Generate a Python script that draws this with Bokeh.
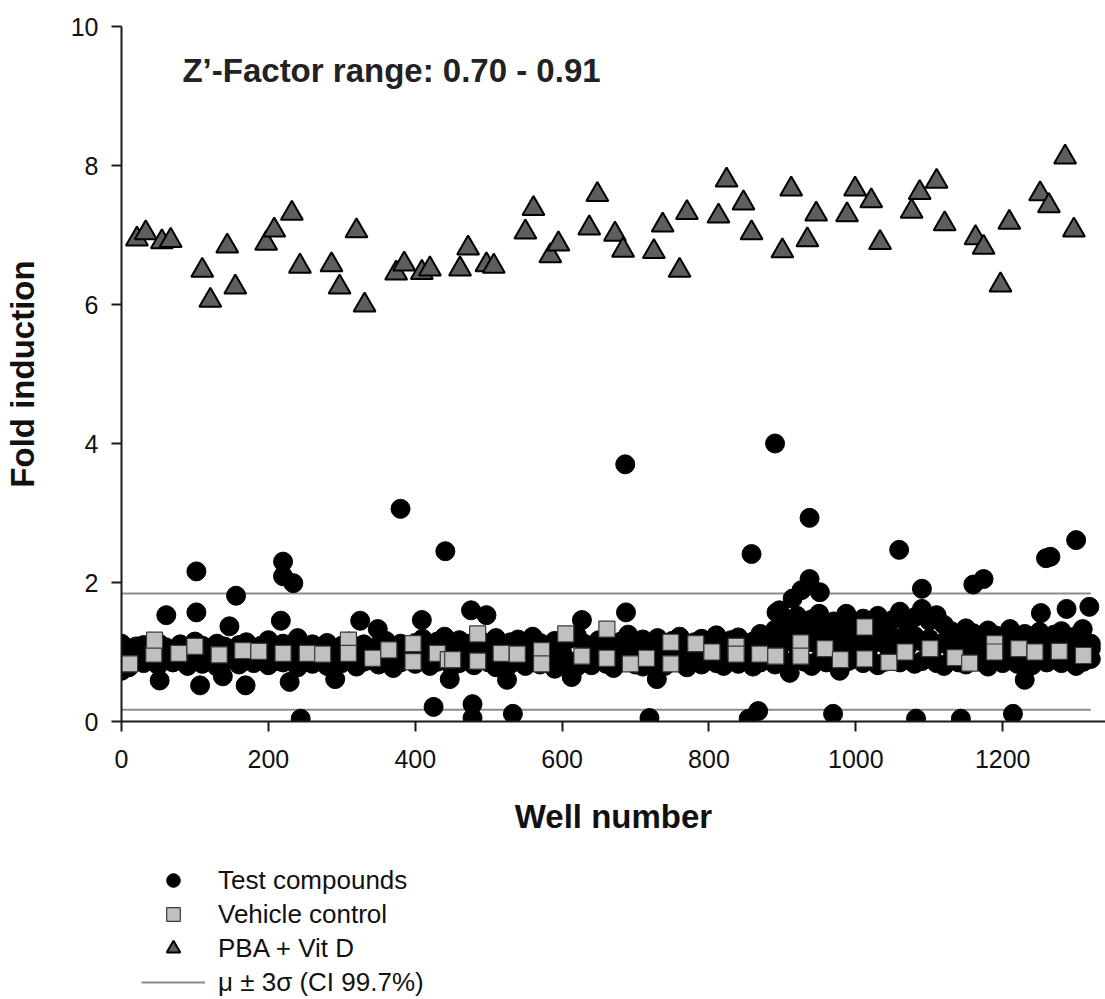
from bokeh.plotting import figure
from bokeh.models import Range1d, Label, Legend, LegendItem, FixedTicker
from bokeh.layouts import column
from bokeh.embed import file_html
from bokeh.resources import INLINE

FONT = "Liberation Sans"

# ---------------- data ----------------
x_ticks = [0, 200, 400, 600, 800, 1000, 1200]
y_ticks = [0, 2, 4, 6, 8, 10]

title_text = "Z\u2019-Factor range: 0.70 - 0.91"
series_names = ["Test compounds", "Vehicle control", "PBA + Vit D", "\u03bc \u00b1 3\u03c3 (CI 99.7%)"]

# mu +/- 3 sigma limits
limit_upper = 1.84
limit_lower = 0.17
limit_well_start = 0
limit_well_end = 1320

# Test compounds: dense band (upper and lower edge of the band)
band_wells = [0, 10, 20, 30, 40, 50, 60, 70, 80, 90,
              100, 110, 120, 130, 140, 150, 160, 170, 180, 190,
              200, 210, 220, 230, 240, 250, 260, 270, 280, 290,
              300, 310, 320, 330, 340, 350, 360, 370, 380, 390,
              400, 410, 420, 430, 440, 450, 460, 470, 480, 490,
              500, 510, 520, 530, 540, 550, 560, 570, 580, 590,
              600, 610, 620, 630, 640, 650, 660, 670, 680, 690,
              700, 710, 720, 730, 740, 750, 760, 770, 780, 790,
              800, 810, 820, 830, 840, 850, 860, 870, 880, 890,
              900, 910, 920, 930, 940, 950, 960, 970, 980, 990,
              1000, 1010, 1020, 1030, 1040, 1050, 1060, 1070, 1080, 1090,
              1100, 1110, 1120, 1130, 1140, 1150, 1160, 1170, 1180, 1190,
              1200, 1210, 1220, 1230, 1240, 1250, 1260, 1270, 1280, 1290,
              1300, 1310, 1320]
band_hi = [1.12, 1.05, 1.08, 1.10, 1.04, 1.13, 1.07, 1.02, 1.11, 1.06,
           1.15, 1.09, 1.04, 1.12, 1.08, 1.03, 1.10, 1.14, 1.06, 1.09,
           1.17, 1.05, 1.12, 1.08, 1.20, 1.04, 1.11, 1.07, 1.13, 1.02,
           1.09, 1.15, 1.06, 1.11, 1.04, 1.10, 1.16, 1.08, 1.12, 1.05,
           1.13, 1.19, 1.09, 1.15, 1.22, 1.10, 1.17, 1.12, 1.08, 1.16,
           1.11, 1.20, 1.06, 1.14, 1.18, 1.09, 1.22, 1.13, 1.07, 1.16,
           1.10, 1.19, 1.24, 1.12, 1.08, 1.17, 1.21, 1.11, 1.15, 1.25,
           1.09, 1.18, 1.13, 1.20, 1.07, 1.16, 1.22, 1.10, 1.14, 1.19,
           1.12, 1.24, 1.08, 1.17, 1.21, 1.11, 1.15, 1.26, 1.18, 1.32,
           1.45, 1.38, 1.52, 1.41, 1.47, 1.55, 1.36, 1.44, 1.30, 1.41,
           1.35, 1.48, 1.40, 1.52, 1.33, 1.46, 1.58, 1.42, 1.50, 1.62,
           1.45, 1.53, 1.39, 1.30, 1.22, 1.34, 1.27, 1.18, 1.31, 1.24,
           1.20, 1.33, 1.15, 1.26, 1.21, 1.29, 1.17, 1.25, 1.30, 1.19,
           1.23, 1.16, 1.12]
band_lo = [0.86, 0.78, 0.90, 0.84, 0.88, 0.81, 0.92, 0.85, 0.89, 0.80,
           0.87, 0.83, 0.91, 0.79, 0.86, 0.90, 0.82, 0.88, 0.84, 0.92,
           0.81, 0.87, 0.85, 0.90, 0.78, 0.86, 0.83, 0.89, 0.80, 0.87,
           0.84, 0.91, 0.79, 0.86, 0.88, 0.82, 0.90, 0.77, 0.85, 0.89,
           0.83, 0.88, 0.80, 0.86, 0.91, 0.79, 0.84, 0.87, 0.81, 0.89,
           0.85, 0.78, 0.88, 0.83, 0.90, 0.80, 0.86, 0.82, 0.89, 0.76,
           0.84, 0.87, 0.79, 0.85, 0.81, 0.88, 0.83, 0.77, 0.86, 0.90,
           0.82, 0.79, 0.87, 0.84, 0.80, 0.89, 0.85, 0.78, 0.86, 0.82,
           0.88, 0.84, 0.80, 0.87, 0.83, 0.89, 0.79, 0.85, 0.90, 0.82,
           0.88, 0.84, 0.91, 0.86, 0.80, 0.89, 0.85, 0.92, 0.83, 0.87,
           0.90, 0.84, 0.88, 0.81, 0.86, 0.92, 0.85, 0.89, 0.83, 0.87,
           0.91, 0.84, 0.80, 0.88, 0.85, 0.82, 0.89, 0.86, 0.79, 0.87,
           0.84, 0.90, 0.83, 0.86, 0.81, 0.88, 0.85, 0.92, 0.84, 0.87,
           0.80, 0.86, 0.90]

# Test compounds: middle of the band
mid_wells = [0, 30, 60, 90, 120, 150, 180, 210, 240, 270,
             300, 330, 360, 390, 420, 450, 480, 510, 540, 570,
             600, 630, 660, 690, 720, 750, 780, 810, 840, 870,
             880, 890, 900, 910, 920, 930, 940, 950, 960, 970,
             980, 990, 1000, 1010, 1020, 1030, 1040, 1050, 1060, 1070,
             1080, 1090, 1100, 1110, 1120, 1130, 1140, 1150, 1160, 1170,
             1180, 1190, 1200, 1210, 1220, 1230, 1240, 1250, 1260, 1270,
             1280, 1290, 1300, 1310, 1320]
mid_fold = [0.98, 1.01, 0.97, 1.03, 0.99, 1.02, 0.96, 1.00, 1.04, 0.98,
            1.01, 0.97, 1.03, 0.99, 1.02, 0.98, 1.04, 1.00, 0.97, 1.03,
            0.99, 1.02, 0.98, 1.04, 1.00, 0.97, 1.03, 0.99, 1.01, 0.98,
            1.05, 1.18, 1.12, 1.22, 1.08, 1.19, 1.14, 1.25, 1.10, 1.17,
            1.06, 1.21, 1.13, 1.18, 1.09, 1.24, 1.11, 1.16, 1.20, 1.07,
            1.23, 1.15, 1.19, 1.10, 1.14, 1.05, 1.03, 1.08, 1.01, 1.06,
            1.04, 1.09, 1.02, 1.07, 1.00, 1.05, 1.08, 1.03, 1.06, 1.01,
            1.07, 1.04, 1.09, 1.02, 1.05]

# Test compounds: points outside the band
out_wells = [0, 61, 102, 102, 147, 156, 217, 220, 220, 234,
             325, 349, 380, 409, 441, 476, 497, 627, 686, 687,
             858, 890, 892, 896, 914, 926, 937, 937, 951, 987,
             1059, 1090, 1160, 1174, 1252, 1259, 1265, 1287, 1300, 1309,
             1318,
             52, 107, 138, 169, 229, 244, 291, 425, 447, 478,
             478, 525, 533, 613, 719, 729, 854, 867, 910, 969,
             978, 1082, 1143, 1214, 1230]
out_fold = [0.73, 1.53, 2.16, 1.57, 1.37, 1.81, 1.45, 2.30, 2.09, 1.99,
            1.45, 1.33, 3.06, 1.46, 2.45, 1.60, 1.53, 1.46, 3.70, 1.57,
            2.41, 4.00, 1.57, 1.60, 1.77, 1.89, 2.05, 2.93, 1.86, 1.55,
            2.47, 1.91, 1.97, 2.05, 1.56, 2.35, 2.37, 1.62, 2.61, 1.33,
            1.65,
            0.59, 0.52, 0.65, 0.52, 0.57, 0.04, 0.61, 0.21, 0.61, 0.25,
            0.05, 0.60, 0.11, 0.64, 0.05, 0.61, 0.04, 0.15, 0.70, 0.11,
            0.73, 0.04, 0.04, 0.11, 0.60]

# Vehicle control
vehicle_wells = [11, 44, 45, 78, 100, 133, 165, 187, 220, 253,
                 274, 309, 309, 342, 364, 397, 397, 430, 445, 451,
                 485, 485, 517, 539, 572, 572, 605, 627, 661, 661,
                 693, 715, 748, 748, 782, 804, 837, 837, 869, 891,
                 925, 925, 958, 979, 1012, 1012, 1045, 1067, 1101, 1135,
                 1155, 1189, 1189, 1222, 1244, 1277, 1310]
vehicle_fold = [0.83, 0.97, 1.17, 0.98, 1.08, 0.96, 1.02, 1.01, 0.98, 0.98,
                0.97, 1.17, 0.98, 0.91, 1.03, 1.12, 0.86, 0.98, 0.89, 0.89,
                1.26, 0.87, 0.98, 0.97, 1.02, 0.83, 1.26, 0.94, 1.33, 0.91,
                0.83, 0.91, 1.14, 0.83, 1.12, 1.00, 1.08, 0.97, 0.97, 0.94,
                1.13, 0.94, 1.05, 0.89, 1.36, 0.90, 0.85, 1.00, 1.05, 0.92,
                0.84, 1.12, 1.00, 1.05, 1.00, 1.01, 0.95]

# PBA + Vit D
pba_wells = [21, 33, 55, 67, 110, 121, 144, 155, 197, 208,
             232, 243, 286, 297, 320, 331, 374, 385, 409, 420,
             461, 472, 497, 507, 550, 561, 584, 595, 637, 648,
             672, 683, 725, 737, 760, 770, 813, 824, 847, 858,
             900, 912, 934, 946, 988, 999, 1021, 1033, 1076, 1087,
             1110, 1121, 1163, 1174, 1197, 1209, 1251, 1263, 1285, 1297]
pba_fold = [6.94, 7.03, 6.90, 6.92, 6.49, 6.06, 6.84, 6.25, 6.88, 7.07,
            7.31, 6.55, 6.57, 6.25, 7.06, 5.99, 6.45, 6.58, 6.46, 6.51,
            6.51, 6.81, 6.57, 6.55, 7.04, 7.38, 6.70, 6.87, 7.10, 7.58,
            7.01, 6.78, 6.76, 7.14, 6.49, 7.32, 7.27, 7.79, 7.46, 7.03,
            6.77, 7.66, 6.93, 7.30, 7.29, 7.66, 7.49, 6.89, 7.34, 7.61,
            7.77, 7.16, 6.96, 6.82, 6.28, 7.18, 7.59, 7.42, 8.12, 7.07]

test_wells = band_wells + band_wells + mid_wells + out_wells
test_fold = band_hi + band_lo + mid_fold + out_fold
limit_xs = [[limit_well_start, limit_well_end], [limit_well_start, limit_well_end]]
limit_ys = [[limit_upper, limit_upper], [limit_lower, limit_lower]]

# ---------------- styles ----------------
TEST_STYLE = dict(marker="circle", fill_color="black", line_color="black", line_width=1)
VEH_STYLE = dict(marker="square", fill_color="#c0c0c0", line_color="#3a3a3a", line_width=1.2)
PBA_STYLE = dict(marker="triangle", fill_color="#5e5e5e", line_color="black", line_width=2)
LIM_STYLE = dict(line_color="#8c8c8c", line_width=2)

# ---------------- main chart ----------------
p = figure(width=1105, height=851,
           x_range=Range1d(0, 1340), y_range=Range1d(0, 10),
           output_backend="svg", toolbar_location=None,
           min_border_left=121, min_border_right=0,
           min_border_top=26, min_border_bottom=130)
p.grid.visible = False
p.outline_line_color = None
p.background_fill_color = "white"
p.border_fill_color = "white"

p.multi_line(xs=limit_xs, ys=limit_ys, **LIM_STYLE)
p.scatter(test_wells, test_fold, size=19, **TEST_STYLE)
p.scatter(vehicle_wells, vehicle_fold, size=16, **VEH_STYLE)
p.scatter(pba_wells, pba_fold, size=22, **PBA_STYLE)

xa = p.xaxis[0]
ya = p.yaxis[0]
xa.ticker = FixedTicker(ticks=x_ticks)
ya.ticker = FixedTicker(ticks=y_ticks)
for ax in (xa, ya):
    ax.axis_line_width = 2
    ax.axis_line_color = "#1a1a1a"
    ax.major_tick_line_width = 2
    ax.major_tick_line_color = "#1a1a1a"
    ax.major_tick_in = 0
    ax.major_tick_out = 10
    ax.minor_tick_line_color = None
    ax.major_label_text_font = FONT
    ax.major_label_text_font_size = "25px"
    ax.major_label_text_color = "#111111"
    ax.axis_label_text_font = FONT
    ax.axis_label_text_font_style = "bold"
    ax.axis_label_text_font_size = "33px"
    ax.axis_label_text_color = "#111111"
xa.axis_label = "Well number"
ya.axis_label = "Fold induction"
xa.major_label_standoff = 18
ya.major_label_standoff = 13
xa.axis_label_standoff = 27
ya.axis_label_standoff = 27

p.add_layout(Label(x=83, y=9.37, text=title_text, text_font=FONT,
                   text_font_style="bold", text_font_size="33px",
                   text_color="#222222", text_baseline="alphabetic"))

# ---------------- legend panel below the chart ----------------
# Same series drawn again in a strip whose y range lies above all data,
# so only the legend (with its swatches) shows there.
pl = figure(width=1105, height=148, x_range=Range1d(0, 1340), y_range=Range1d(20, 21),
            output_backend="svg", toolbar_location=None,
            x_axis_location=None, y_axis_location=None,
            min_border_left=121, min_border_right=0, min_border_top=0, min_border_bottom=0)
pl.grid.visible = False
pl.outline_line_color = None
pl.background_fill_color = "white"
pl.border_fill_color = "white"

k_lim = pl.multi_line(xs=limit_xs, ys=limit_ys, **LIM_STYLE)
k_test = pl.scatter(test_wells, test_fold, size=19, **TEST_STYLE)
k_veh = pl.scatter(vehicle_wells, vehicle_fold, size=16, **VEH_STYLE)
k_pba = pl.scatter(pba_wells, pba_fold, size=22, **PBA_STYLE)

legend = Legend(items=[LegendItem(label=series_names[0], renderers=[k_test]),
                       LegendItem(label=series_names[1], renderers=[k_veh]),
                       LegendItem(label=series_names[2], renderers=[k_pba]),
                       LegendItem(label=series_names[3], renderers=[k_lim])],
                location=(20, 0), glyph_width=64, glyph_height=34,
                label_height=34, spacing=0, label_standoff=13,
                label_text_font=FONT, label_text_font_size="26px",
                label_text_color="#111111",
                border_line_color=None, background_fill_alpha=0,
                padding=0, margin=0)
pl.add_layout(legend)

layout = column(p, pl, spacing=0)
open("out.html", "w").write(file_html(layout, INLINE))
